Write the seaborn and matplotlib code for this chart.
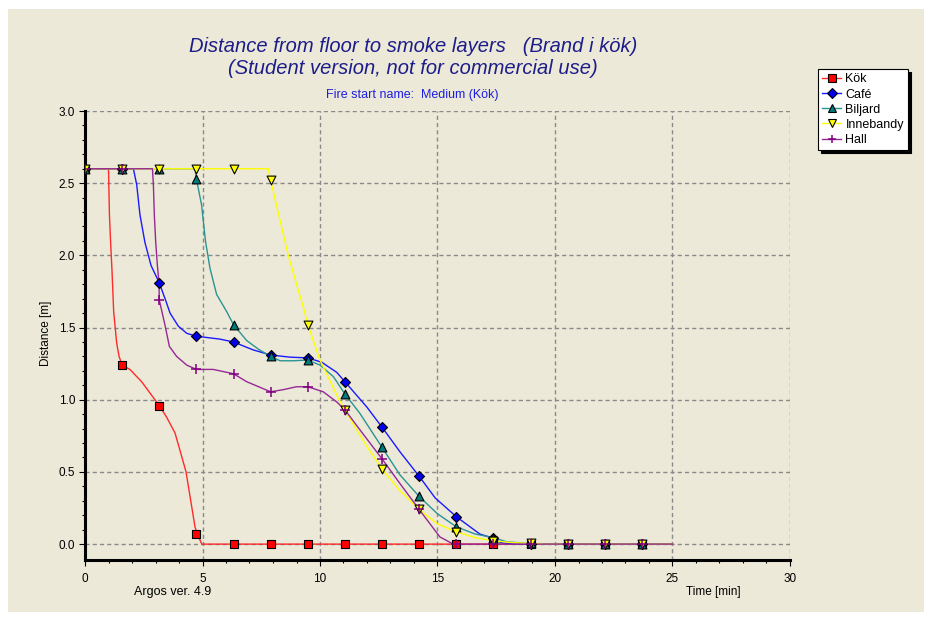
import matplotlib
matplotlib.use("Agg")
import matplotlib.pyplot as plt
from matplotlib.patches import Rectangle
from matplotlib.lines import Line2D
from matplotlib.ticker import MultipleLocator, FormatStrFormatter
import seaborn as sns
import pandas as pd

# ---------------- data ----------------
series_names = ["Kök", "Café", "Biljard", "Innebandy", "Hall"]

kok_t = [0, 1.0, 1.04, 1.09, 1.15, 1.22, 1.35, 1.45, 1.58, 1.91, 2.41, 2.84, 3.16,
         3.47, 3.83, 4.04, 4.30, 4.50, 4.68, 4.78, 4.97, 25]
kok_d = [2.6, 2.6, 2.28, 2.09, 1.89, 1.61, 1.39, 1.30, 1.24, 1.21, 1.125, 1.03, 0.96,
         0.88, 0.77, 0.65, 0.50, 0.30, 0.12, 0.07, 0.0, 0.0]

cafe_t = [0, 2.06, 2.20, 2.34, 2.55, 2.81, 3.16, 3.45, 3.62, 3.97, 4.33, 4.74, 5.74,
          6.32, 7.16, 7.90, 8.72, 9.48, 10.07, 10.71, 11.06, 11.99, 12.64, 13.4,
          14.22, 14.9, 15.8, 16.8, 17.38, 17.7, 18.3, 25]
cafe_d = [2.6, 2.6, 2.49, 2.28, 2.09, 1.93, 1.81, 1.68, 1.60, 1.51, 1.46, 1.44, 1.42,
          1.40, 1.345, 1.31, 1.295, 1.29, 1.26, 1.19, 1.125, 0.95, 0.81, 0.64,
          0.47, 0.32, 0.19, 0.07, 0.04, 0.01, 0.0, 0.0]

biljard_t = [0, 4.68, 4.74, 4.96, 5.13, 5.32, 5.60, 6.03, 6.32, 6.88, 7.38, 7.90, 8.30,
             8.86, 9.48, 10.0, 10.57, 11.06, 11.7, 12.64, 13.4, 14.22, 15.0, 15.8,
             16.6, 17.38, 17.94, 18.6, 19.3, 25]
biljard_d = [2.6, 2.6, 2.53, 2.35, 2.095, 1.91, 1.73, 1.61, 1.52, 1.41, 1.35, 1.30, 1.27,
             1.27, 1.275, 1.24, 1.16, 1.04, 0.905, 0.67, 0.48, 0.33, 0.21, 0.12,
             0.07, 0.045, 0.016, 0.008, 0.0, 0.0]

inne_t = [0, 7.8, 7.9, 8.65, 9.36, 9.48, 10.0, 10.78, 11.06, 11.9, 12.64, 13.4, 14.22,
          15.0, 15.8, 16.6, 17.38, 18.2, 18.96, 19.6, 25]
inne_d = [2.6, 2.6, 2.52, 2.0, 1.60, 1.52, 1.275, 1.01, 0.93, 0.70, 0.52, 0.37, 0.24,
          0.14, 0.085, 0.045, 0.023, 0.01, 0.005, 0.0, 0.0]

hall_t = [0, 2.87, 2.91, 2.95, 3.01, 3.08, 3.15, 3.16, 3.19, 3.40, 3.59, 3.90, 4.33,
          4.74, 5.46, 6.32, 6.88, 7.90, 8.44, 9.0, 9.48, 10.14, 10.71, 11.06, 11.8,
          12.64, 13.4, 14.22, 15.1, 15.67, 25]
hall_d = [2.6, 2.6, 2.49, 2.28, 2.09, 1.93, 1.81, 1.69, 1.67, 1.52, 1.37, 1.30, 1.24,
          1.21, 1.21, 1.18, 1.125, 1.055, 1.07, 1.09, 1.09, 1.055, 0.985, 0.93, 0.77,
          0.59, 0.42, 0.24, 0.05, 0.0, 0.0]

marker_t = [0, 1.58, 3.16, 4.74, 6.32, 7.90, 9.48, 11.06, 12.64, 14.22, 15.80, 17.38,
            18.96, 20.54, 22.12, 23.70]
kok_m = [2.6, 1.24, 0.96, 0.07, 0, 0, 0, 0, 0, 0, 0, 0, 0, 0, 0, 0]
cafe_m = [2.6, 2.6, 1.81, 1.44, 1.40, 1.31, 1.29, 1.125, 0.81, 0.47, 0.19, 0.04, 0.0, 0, 0, 0]
biljard_m = [2.6, 2.6, 2.6, 2.53, 1.52, 1.30, 1.275, 1.04, 0.67, 0.33, 0.12, 0.045, 0.005, 0, 0, 0]
inne_m = [2.6, 2.6, 2.6, 2.6, 2.6, 2.52, 1.52, 0.93, 0.52, 0.24, 0.085, 0.023, 0.005, 0, 0, 0]
hall_m = [2.6, 2.6, 1.69, 1.21, 1.18, 1.055, 1.09, 0.93, 0.59, 0.24, 0, 0, 0, 0, 0, 0]

x_ticks = [0, 5, 10, 15, 20, 25, 30]
y_ticks = [0.0, 0.5, 1.0, 1.5, 2.0, 2.5, 3.0]

# ---------------- styles ----------------
line_colors = {"Kök": "#ff2a2a", "Café": "#1a1aff", "Biljard": "#2a9494",
               "Innebandy": "#ffff00", "Hall": "#962896"}
face_colors = {"Kök": "#ff0000", "Café": "#0000ee", "Biljard": "#007a7a",
               "Innebandy": "#ffff00", "Hall": "#800080"}
markers = {"Kök": "s", "Café": "D", "Biljard": "^", "Innebandy": "v", "Hall": "+"}
msize = {"Kök": 36, "Café": 26, "Biljard": 40, "Innebandy": 40, "Hall": 55}

BG = "#ECE9D8"
W, H = 931, 619
FONT = "Liberation Sans"

plt.rcParams["font.family"] = [FONT, "DejaVu Sans"]

fig = plt.figure(figsize=(W / 100, H / 100), dpi=100)
fig.patch.set_facecolor("white")
fig.add_artist(Rectangle((8 / W, 1 - 612 / H), (924 - 8) / W, (612 - 9) / H,
                         transform=fig.transFigure, facecolor=BG,
                         edgecolor="none", zorder=-10))

ax = fig.add_axes([85 / W, 59 / H, 705 / W, 449 / H])
ax.set_facecolor(BG)

series = [("Kök", kok_t, kok_d, kok_m), ("Café", cafe_t, cafe_d, cafe_m),
          ("Biljard", biljard_t, biljard_d, biljard_m),
          ("Innebandy", inne_t, inne_d, inne_m), ("Hall", hall_t, hall_d, hall_m)]

lines_df = pd.concat([pd.DataFrame({"series": n, "t": t, "d": d}) for n, t, d, _ in series],
                     ignore_index=True)
sns.lineplot(data=lines_df, x="t", y="d", hue="series", hue_order=series_names,
             palette=line_colors, estimator=None, sort=False, legend=False,
             linewidth=1.0, ax=ax, zorder=2)

for n, _, _, m in series:
    if markers[n] == "+":
        sns.scatterplot(x=marker_t, y=m, marker="+", s=msize[n], color=face_colors[n],
                        linewidth=1.1, ax=ax, zorder=3, legend=False)
    else:
        sns.scatterplot(x=marker_t, y=m, marker=markers[n], s=msize[n],
                        color=face_colors[n], edgecolor="black", linewidth=0.8,
                        ax=ax, zorder=3, legend=False)

ax.set_xlim(0, 30)
ax.set_ylim(-0.11, 3.0)
ax.set_xticks(x_ticks)
ax.set_yticks(y_ticks)
ax.xaxis.set_minor_locator(MultipleLocator(1))
ax.set_yticks([i / 10 for i in range(0, 31)], minor=True)
ax.yaxis.set_major_formatter(FormatStrFormatter("%.1f"))
ax.set_xlabel("")
ax.set_ylabel("")
ax.grid(True, which="major", color="#8a8a8a", linestyle=(0, (3, 2.2)), linewidth=1.0)
ax.set_axisbelow(True)
for s in ["top", "right"]:
    ax.spines[s].set_visible(False)
for s in ["left", "bottom"]:
    ax.spines[s].set_linewidth(2.2)
    ax.spines[s].set_color("black")
ax.tick_params(which="major", direction="out", length=4, width=0.8, colors="black",
               labelsize=8.5, pad=3)
ax.tick_params(which="minor", direction="out", length=2.5, width=0.8, colors="black")
ax.tick_params(axis="x", which="major", pad=5)
for lab in ax.get_xticklabels() + ax.get_yticklabels():
    lab.set_fontfamily(FONT)

def ftext(x, y, s, **kw):
    fig.text(x / W, 1 - y / H, s, **kw)

title_color = "#1c1c8a"
ftext(413, 46, "Distance from floor to smoke layers   (Brand i kök)", ha="center",
      va="center", fontsize=14.5, style="italic", color=title_color)
ftext(413, 68, "(Student version, not for commercial use)", ha="center",
      va="center", fontsize=14.5, style="italic", color=title_color)
ftext(412, 95, "Fire start name:  Medium (Kök)", ha="center", va="center",
      fontsize=9, color="#1f1fe0")
ftext(173, 592, "Argos ver. 4.9", ha="center", va="center", fontsize=9, color="black")
ftext(713, 592, "Time [min]", ha="center", va="center", fontsize=8.5, color="black")
ftext(46, 333, "Distance [m]", ha="center", va="center", rotation=90, fontsize=8.5,
      color="black")

handles = [Line2D([0], [0], color=line_colors[n], lw=1.0, marker=markers[n],
                  markersize=6 if markers[n] != "D" else 5,
                  markerfacecolor=face_colors[n],
                  markeredgecolor="black" if markers[n] != "+" else face_colors[n],
                  markeredgewidth=0.8 if markers[n] != "+" else 1.1)
           for n in series_names]
leg = fig.legend(handles=handles, labels=series_names, loc="upper left",
                 bbox_to_anchor=(818 / W, 1 - 69 / H), bbox_transform=fig.transFigure,
                 frameon=True, fancybox=False, edgecolor="black", facecolor="white",
                 framealpha=1, shadow={"color": "black", "alpha": 1},
                 fontsize=9, handlelength=1.5, handletextpad=0.35,
                 borderpad=0.35, labelspacing=0.25, borderaxespad=0)
leg.get_frame().set_linewidth(0.8)

fig.savefig("out.png", dpi=100, facecolor=fig.get_facecolor())
